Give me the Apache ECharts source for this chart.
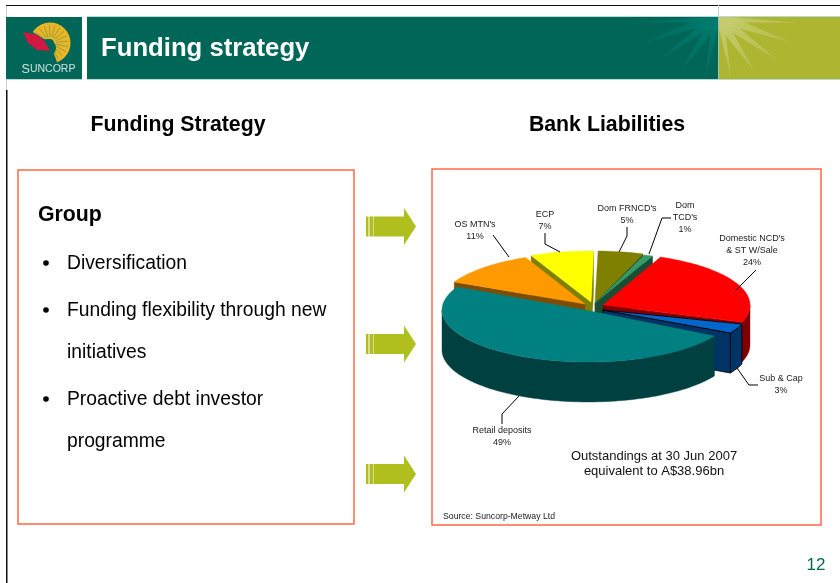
<!DOCTYPE html>
<html>
<head>
<meta charset="utf-8">
<title>Funding strategy</title>
<style>html,body{margin:0;padding:0;background:#fff}#c{width:840px;height:583px}</style>
<script src="https://cdn.jsdelivr.net/npm/echarts@6/dist/echarts.min.js"></script>
</head>
<body>
<div id="c"></div>
<script>
// ---- chart values ----
var categories = ["Retail deposits", "OS MTN's", "ECP", "Dom FRNCD's", "Dom TCD's", "Domestic NCD's & ST W/Sale", "Sub & Cap"];
var shares = [49, 11, 7, 5, 1, 24, 3];
var labelLines = [["Retail deposits"], ["OS MTN's"], ["ECP"], ["Dom FRNCD's"], ["Dom", "TCD's"], ["Domestic NCD's", "& ST W/Sale"], ["Sub & Cap"]];
var bullets = ["Diversification", "Funding flexibility through new", "initiatives", "Proactive debt investor", "programme"];

// ---- appearance and layout ----
var FONT = '"Liberation Sans", Arial, sans-serif';
var sliceColors = ['#008080', '#FF9900', '#FFFF00', '#808000', '#339966', '#FF0000', '#0066CC'];
var wallColors = ['#004040', '#804D00', '#808000', '#404000', '#1A4D33', '#800000', '#003366'];
var sliceCentres = [[588, 310], [585, 305], [590.5, 303], [595, 303], [596, 304], [604, 305], [604, 307]];
var sliceApexes = [[595, 312], [585, 304], [591, 302], [595, 302], [595, 303], [603, 305], [603, 310]];
var paintOrder = [3, 2, 4, 1, 5, 6, 0];
var RX = 146, RY = 52, DEPTH = 40, START_T = 30;
var labelAnchors = [[502, 431], [475, 225], [545, 215], [627, 209], [685, 206], [752, 239], [781, 379]];
var leaders = [
  [[519, 396], [502, 414], [502, 424]],
  [[493, 235], [509, 257]],
  [[545, 233], [545, 244], [560, 252]],
  [[627, 227], [627, 236], [619, 252]],
  [[671, 218], [662, 218], [649, 254]],
  [[756, 270], [735, 291]],
  [[737, 368], [749, 385], [758, 385]]
];

var total = shares.reduce(function (a, b) { return a + b; }, 0);
var sliceAngles = [];
(function () {
  var t = START_T;
  shares.forEach(function (v) {
    var next = t + v / total * 360;
    sliceAngles.push([t, next]);
    t = next;
  });
})();

function pt(c, t, dz) {
  var r = t * Math.PI / 180;
  return [c[0] + RX * Math.cos(r), c[1] + RY * Math.sin(r) + (dz || 0)];
}
function arc(c, a, b, dz) {
  var out = [], n = Math.max(2, Math.ceil((b - a) / 2));
  for (var i = 0; i <= n; i++) out.push(pt(c, a + (b - a) * i / n, dz));
  return out;
}
function poly(points, fill, z2, stroke) {
  return {
    type: 'polygon', z2: z2, shape: { points: points },
    style: { fill: fill, stroke: stroke || fill, lineWidth: stroke ? 0.8 : 0.4 }
  };
}
function renderSlice(params, api) {
  var i = api.value(0), order = paintOrder.indexOf(i);
  var c = sliceCentres[i], ap = sliceApexes[i], a = sliceAngles[i][0], b = sliceAngles[i][1];
  var wall = wallColors[i], kids = [], base = order * 10;
  var stroke = i === 6 ? '#000000' : null;
  var s = pt(c, a), e = pt(c, b);
  var low = function (p) { return [p[0], p[1] + DEPTH]; };
  if (Math.sin((a - 90) * Math.PI / 180) > 0.02) kids.push(poly([ap, s, low(s), low(ap)], wall, base + 1, stroke));
  if (Math.sin((b + 90) * Math.PI / 180) > 0.02) kids.push(poly([ap, e, low(e), low(ap)], wall, base + 1, stroke));
  [[0, 180], [360, 540]].forEach(function (r) {
    var l = Math.max(a, r[0]), h = Math.min(b, r[1]);
    if (h > l) kids.push(poly(arc(c, l, h, 0).concat(arc(c, l, h, DEPTH).reverse()), wall, base + 2, stroke));
  });
  kids.push(poly([ap].concat(arc(c, a, b, 0)), sliceColors[i], base + 3, stroke));
  return { type: 'group', children: kids };
}
function renderLabel(params, api) {
  var i = api.value(0), kids = [];
  var lines = labelLines[i].concat([api.value(1) + '%']);
  var step = i === 5 ? 11.6 : 12;
  lines.forEach(function (txt, k) {
    kids.push({
      type: 'text', z2: 200,
      style: { text: txt, x: labelAnchors[i][0], y: labelAnchors[i][1] + k * step, align: 'center', verticalAlign: 'middle', fill: '#222', font: '9px ' + FONT }
    });
  });
  kids.push({
    type: 'polyline', z2: 190, shape: { points: leaders[i] },
    style: { fill: null, stroke: '#000', lineWidth: 1 }
  });
  return { type: 'group', children: kids };
}

// ---- slide furniture ----
var G = [];
function rect(x, y, w, h, fill, extra) {
  var o = { type: 'rect', shape: { x: x, y: y, width: w, height: h }, style: { fill: fill }, z: 1 };
  if (extra) { o.style.stroke = extra.stroke; o.style.lineWidth = extra.lineWidth; }
  return o;
}
function text(t, x, y, font, fill, align) {
  return { type: 'text', z: 5, style: { text: t, x: x, y: y, font: font, fill: fill || '#000', align: align || 'left', verticalAlign: 'middle' } };
}
G.push(rect(6, 5, 834, 1, '#111'));
G.push(rect(6, 6, 1, 84, '#ccc'));
G.push(rect(6, 90, 1.5, 493, '#111'));
G.push(rect(6, 17, 76, 62, '#006658'));
G.push(rect(87, 17, 631, 62, '#006658'));
G.push(rect(718, 17, 122, 62, '#ADB531'));
G.push(rect(6, 79, 76, 1, '#bcd8d4'));
G.push(rect(87, 79, 753, 1, '#bcd8d4'));
G.push(rect(87, 16, 753, 1, '#bcd8d4'));
G.push(rect(718, 5, 1, 12, '#bcd8d4'));
G.push(rect(718, 17, 1, 62, '#9cc4b8'));

var leftTips = [[633, 23], [642, 43], [660, 59], [680, 72], [705, 78]];
var rightTips = [[800, 23], [793, 43], [777, 60], [755, 72], [731, 78]];
function rays(tips, colour, colour0, sign) {
  tips.forEach(function (tip) {
    var dx = tip[0] - 718, dy = tip[1] - 17, l = Math.sqrt(dx * dx + dy * dy), nx = -dy / l * 4.5, ny = dx / l * 4.5;
    var q = 0.18;
    var pts = [[718, 17], [718 + dx * q + nx, 17 + dy * q + ny], tip, [718 + dx * q - nx, 17 + dy * q - ny]].map(function (p) {
      return [sign < 0 ? Math.min(p[0], 718) : Math.max(p[0], 719), Math.max(p[1], 17)];
    });
    G.push({
      type: 'polygon', z: 2, shape: { points: pts },
      style: { fill: { type: 'radial', x: 718, y: 17, r: 105, global: true, colorStops: [{ offset: 0, color: colour0 }, { offset: 1, color: colour }] } }
    });
  });
}
rays(leftTips, 'rgba(0,118,106,0.15)', 'rgba(0,122,110,1)', -1);
rays(rightTips, 'rgba(196,204,110,0.15)', 'rgba(196,204,110,1)', 1);

// logo
var sunC = [50, 43];
G.push({ type: 'sector', z: 2, shape: { cx: sunC[0], cy: sunC[1], r: 20.5, r0: 4, startAngle: -2.57, endAngle: 1.22, clockwise: true }, style: { fill: '#EAB625' } });
for (var a = -2.5; a < 1.2; a += 0.3) {
  G.push({ type: 'line', z: 3, shape: { x1: sunC[0] + 6 * Math.cos(a), y1: sunC[1] + 6 * Math.sin(a), x2: sunC[0] + 18 * Math.cos(a), y2: sunC[1] + 18 * Math.sin(a) }, style: { stroke: '#6f9450', lineWidth: 0.7 } });
}
G.push({ type: 'circle', z: 3, shape: { cx: 47, cy: 48, r: 9 }, style: { fill: '#006658' } });
G.push({ type: 'polygon', z: 4, shape: { points: [[23, 32], [38, 35], [45, 42], [50, 51], [37, 50], [28, 43]] }, style: { fill: '#D01840' } });
G.push({
  type: 'text', z: 5,
  style: {
    text: '{a|S}{b|UNCORP}', x: 48.5, y: 69.5, align: 'center', verticalAlign: 'middle', fill: '#cfe0dc',
    rich: { a: { font: '12.5px ' + FONT, fill: '#cfe0dc' }, b: { font: '10.5px ' + FONT, fill: '#cfe0dc' } }
  }
});

G.push(text('Funding strategy', 101, 49, 'bold 25.7px ' + FONT, '#fff'));
G.push(text('Funding Strategy', 178, 125, 'bold 21.3px ' + FONT, '#000', 'center'));
G.push(text('Bank Liabilities', 607, 125, 'bold 21.3px ' + FONT, '#000', 'center'));
G.push(rect(18, 170, 336, 354, 'none', { stroke: '#FF6A48', lineWidth: 1.5 }));
G.push(rect(432, 169, 389, 356, 'none', { stroke: '#FF6A48', lineWidth: 1.5 }));
G.push(text('Group', 38, 215, 'bold 21.3px ' + FONT));
var bulletYs = [264, 311, 353, 400, 442], hasDot = [1, 1, 0, 1, 0];
bullets.forEach(function (b, i) {
  G.push(text(b, 67, bulletYs[i], '19.3px ' + FONT));
  if (hasDot[i]) G.push({ type: 'circle', z: 5, shape: { cx: 46, cy: bulletYs[i] - 1, r: 2.8 }, style: { fill: '#000' } });
});
[226.5, 344, 474].forEach(function (y) {
  var col = '#B0BF1E';
  G.push(rect(366, y - 10, 2.5, 20, col));
  G.push(rect(369.5, y - 10, 4, 20, col));
  G.push({ type: 'polygon', z: 2, shape: { points: [[374, y - 10], [404, y - 10], [404, y - 18.5], [416, y], [404, y + 18.5], [404, y + 10], [374, y + 10]] }, style: { fill: col } });
});
G.push(text('Outstandings at 30 Jun 2007', 654, 456, '13px ' + FONT, '#111', 'center'));
G.push(text('equivalent to A$38.96bn', 654, 471, '13px ' + FONT, '#111', 'center'));
G.push(text('Source: Suncorp-Metway Ltd', 443, 516.5, '8.7px ' + FONT, '#222'));
G.push(text('12', 816, 565, '17px ' + FONT, '#006658', 'center'));

var chart = echarts.init(document.getElementById('c'), null, { renderer: 'canvas', width: 840, height: 583 });
chart.setOption({
  animation: false,
  backgroundColor: '#fff',
  graphic: { elements: G },
  series: [
    {
      type: 'custom', name: 'Bank Liabilities', coordinateSystem: 'none', z: 10, silent: true,
      renderItem: renderSlice,
      data: paintOrder.map(function (i) { return { name: categories[i], value: [i, shares[i]] }; })
    },
    {
      type: 'custom', name: 'Labels', coordinateSystem: 'none', z: 20, silent: true,
      renderItem: renderLabel,
      data: shares.map(function (v, i) { return { name: categories[i], value: [i, v] }; })
    }
  ]
});
</script>
</body>
</html>
